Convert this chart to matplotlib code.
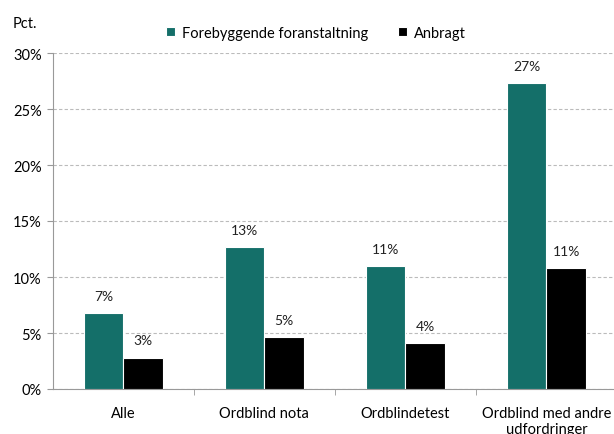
import numpy as np
import matplotlib.pyplot as plt
from matplotlib.ticker import FixedLocator

categories = ['Alle', 'Ordblind nota', 'Ordblindetest', 'Ordblind med andre\nudfordringer']
forebyggende = [6.8, 12.7, 11.0, 27.3]
anbragt = [2.8, 4.6, 4.1, 10.8]
series_names = ['Forebyggende foranstaltning', 'Anbragt']
yticks = [0, 5, 10, 15, 20, 25, 30]

teal = '#146f69'
plt.rcParams['font.family'] = ['Lato', 'DejaVu Sans']

fig = plt.figure(figsize=(6.14, 4.35), dpi=100)
# plot area runs a little past the right edge, as in the reference
ax = fig.add_axes([52.7/614, 45/435, (617 - 52.7)/614, 336/435])

x = np.arange(len(categories))
w = 0.28
b1 = ax.bar(x - w/2, forebyggende, w, color=teal, edgecolor='white', linewidth=0.8,
            label=series_names[0], zorder=3)
b2 = ax.bar(x + w/2, anbragt, w, color='black', edgecolor='white', linewidth=0.8,
            label=series_names[1], zorder=3)

for bars, vals in [(b1, forebyggende), (b2, anbragt)]:
    for r, v in zip(bars, vals):
        ax.text(r.get_x() + r.get_width()/2, v + 1.0, '%d%%' % round(v),
                ha='center', va='bottom', fontsize=10, color='#222222')

ax.set_ylim(0, 30)
ax.set_xlim(-0.5, 3.5)
ax.set_yticks(yticks)
ax.set_yticklabels(['%d%%' % t for t in yticks], fontsize=10.5)
ax.yaxis.grid(True, linestyle=(0, (3, 2)), color='#bbbbbb', linewidth=0.8, zorder=0)

ax.set_xticks(x)
ax.set_xticklabels(categories, fontsize=10.5)
ax.tick_params(axis='x', length=0, pad=12)
ax.xaxis.set_minor_locator(FixedLocator([0.5, 1.5, 2.5]))
ax.tick_params(axis='x', which='minor', length=4, color='#999999')
ax.tick_params(axis='y', length=4, color='#999999', pad=4)

for s in ['top', 'right']:
    ax.spines[s].set_visible(False)
ax.spines['left'].set_color('#999999')
ax.spines['bottom'].set_color('#999999')

fig.text(13/614, 1 - 24/435, 'Pct.', fontsize=10.5, va='center', ha='left')
ax.legend(loc='center', bbox_to_anchor=(316/614, 1 - 34/435), bbox_transform=fig.transFigure,
          ncol=2, frameon=False, fontsize=10.5, handlelength=0.6, handleheight=0.6,
          handletextpad=0.5, columnspacing=2.0)

fig.savefig('out.png', dpi=100)
